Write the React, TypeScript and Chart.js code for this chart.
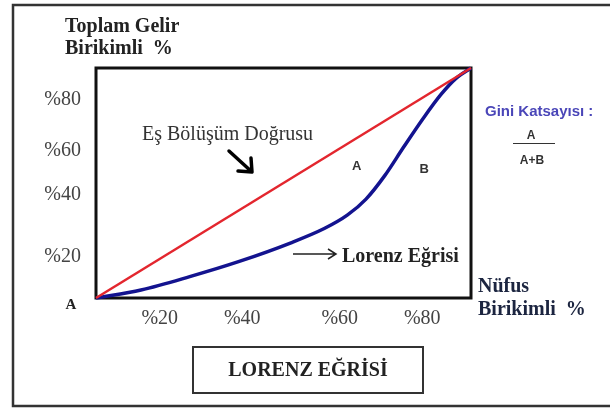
import React, { useEffect, useRef } from 'react';
import { Chart, registerables } from 'chart.js';

Chart.register(...registerables);

// Lorenz curve: cumulative population share (x) vs cumulative income share (y)
const populationCum = [0, 12, 25, 38, 52, 61, 67, 72, 77, 82, 87, 92, 96, 100];
const incomeCum = [0, 3.5, 9.3, 15.8, 24, 30.3, 36, 43, 53.2, 65.5, 77.5, 88.5, 95.5, 100];

// Line of perfect equality
const equalityX = [0, 100];
const equalityY = [0, 100];

// Tick labels as placed in the picture
const xTickPos = [17, 39, 65, 87];
const xTickLabels = ['%20', '%40', '%60', '%80'];
const yTickPos = [18, 45, 64, 86];
const yTickLabels = ['%20', '%40', '%60', '%80'];

const SERIF = '"Liberation Serif", "Times New Roman", serif';
const SANS = '"Liberation Sans", Arial, sans-serif';

const decorPlugin = {
  id: 'decor',
  beforeDatasetsDraw(chart: any) {
    const { ctx, chartArea } = chart;
    ctx.save();
    ctx.strokeStyle = '#111';
    ctx.lineWidth = 3;
    ctx.strokeRect(chartArea.left, chartArea.top, chartArea.right - chartArea.left, chartArea.bottom - chartArea.top);
    ctx.restore();
  },
  afterDraw(chart: any) {
    const { ctx, scales } = chart;
    const xs = scales.x;
    const ys = scales.y;
    ctx.save();

    // outer frame (open on the right)
    ctx.strokeStyle = '#333';
    ctx.lineWidth = 2.5;
    ctx.beginPath();
    ctx.moveTo(620, 5);
    ctx.lineTo(13, 5);
    ctx.lineTo(13, 406);
    ctx.lineTo(620, 406);
    ctx.stroke();

    ctx.textBaseline = 'alphabetic';
    ctx.textAlign = 'left';

    // Y axis title
    ctx.fillStyle = '#222';
    ctx.font = `bold 20px ${SERIF}`;
    ctx.fillText('Toplam Gelir', 65, 32);
    ctx.fillText('Birikimli  %', 65, 54);

    // X axis title
    ctx.fillStyle = '#1c2540';
    ctx.fillText('Nüfus', 478, 292);
    ctx.fillText('Birikimli  %', 478, 315);

    // origin label
    ctx.fillStyle = '#222';
    ctx.font = `bold 15px ${SERIF}`;
    ctx.textAlign = 'center';
    ctx.fillText('A', 71, 309);

    // Eş Bölüşüm Doğrusu
    ctx.textAlign = 'left';
    ctx.fillStyle = '#333';
    ctx.font = `20px ${SERIF}`;
    ctx.fillText('Eş Bölüşüm Doğrusu', 142, 140);

    // hand-drawn arrow
    ctx.strokeStyle = '#000';
    ctx.lineWidth = 3.5;
    ctx.lineCap = 'round';
    ctx.beginPath();
    ctx.moveTo(229, 151);
    ctx.lineTo(252, 172);
    ctx.moveTo(252, 172);
    ctx.lineTo(238, 171);
    ctx.moveTo(252, 172);
    ctx.lineTo(251, 158);
    ctx.stroke();

    // A and B area labels (placed in data space)
    ctx.fillStyle = '#333';
    ctx.font = `bold 13px ${SANS}`;
    ctx.textAlign = 'center';
    ctx.textBaseline = 'middle';
    ctx.fillText('A', xs.getPixelForValue(69.5), ys.getPixelForValue(57));
    ctx.fillText('B', xs.getPixelForValue(87.5), ys.getPixelForValue(56));

    // Lorenz Eğrisi arrow + label
    ctx.strokeStyle = '#222';
    ctx.lineWidth = 1.5;
    ctx.lineCap = 'butt';
    ctx.beginPath();
    ctx.moveTo(293, 254);
    ctx.lineTo(336, 254);
    ctx.moveTo(328, 249);
    ctx.lineTo(336, 254);
    ctx.lineTo(328, 259);
    ctx.stroke();
    ctx.textAlign = 'left';
    ctx.textBaseline = 'alphabetic';
    ctx.fillStyle = '#222';
    ctx.font = `bold 20px ${SERIF}`;
    ctx.fillText('Lorenz Eğrisi', 342, 262);

    // Gini coefficient
    ctx.fillStyle = '#4a46b8';
    ctx.font = `bold 15px ${SANS}`;
    ctx.fillText('Gini Katsayısı :', 485, 116);
    ctx.fillStyle = '#333';
    ctx.font = `bold 12px ${SANS}`;
    ctx.textAlign = 'center';
    ctx.fillText('A', 531, 139);
    ctx.strokeStyle = '#333';
    ctx.lineWidth = 1;
    ctx.beginPath();
    ctx.moveTo(513, 143.5);
    ctx.lineTo(555, 143.5);
    ctx.stroke();
    ctx.fillText('A+B', 532, 164);

    // title box
    ctx.strokeStyle = '#333';
    ctx.lineWidth = 2;
    ctx.strokeRect(193, 347, 230, 46);
    ctx.fillStyle = '#222';
    ctx.font = `bold 20px ${SERIF}`;
    ctx.textAlign = 'center';
    ctx.fillText('LORENZ EĞRİSİ', 308, 376);

    ctx.restore();
  },
};

export default function App() {
  const ref = useRef<HTMLCanvasElement | null>(null);

  useEffect(() => {
    document.body.style.margin = '0';
    document.body.style.background = '#fff';
    const canvas = ref.current;
    if (!canvas) return;

    const chart = new Chart(canvas, {
      type: 'line',
      data: {
        datasets: [
          {
            label: 'Eş Bölüşüm Doğrusu',
            data: equalityX.map((x, i) => ({ x, y: equalityY[i] })),
            borderColor: '#e3262e',
            borderWidth: 2.5,
            pointRadius: 0,
            tension: 0,
            clip: false as any,
          },
          {
            label: 'Lorenz Eğrisi',
            data: populationCum.map((x, i) => ({ x, y: incomeCum[i] })),
            borderColor: '#13138f',
            borderWidth: 3.5,
            pointRadius: 0,
            cubicInterpolationMode: 'monotone',
            clip: false as any,
          },
        ],
      },
      options: {
        animation: false,
        responsive: false,
        devicePixelRatio: 1,
        layout: { padding: { left: 0, top: 68, right: 139, bottom: 71 } },
        plugins: {
          legend: { display: false },
          tooltip: { enabled: false },
          title: { display: false },
        },
        scales: {
          x: {
            type: 'linear',
            min: 0,
            max: 100,
            grid: { display: false, drawTicks: false },
            border: { display: false },
            afterBuildTicks: (s: any) => {
              s.ticks = xTickPos.map((v) => ({ value: v }));
            },
            afterFit: (s: any) => {
              s.height = 40;
            },
            ticks: {
              autoSkip: false,
              maxRotation: 0,
              padding: 9,
              color: '#444',
              font: { family: SERIF, size: 20 },
              callback: (_v: any, i: number) => xTickLabels[i],
            },
          },
          y: {
            type: 'linear',
            min: 0,
            max: 100,
            grid: { display: false, drawTicks: false },
            border: { display: false },
            afterBuildTicks: (s: any) => {
              s.ticks = yTickPos.map((v) => ({ value: v }));
            },
            afterFit: (s: any) => {
              s.width = 96;
            },
            ticks: {
              autoSkip: false,
              padding: 15,
              color: '#444',
              font: { family: SERIF, size: 20 },
              callback: (_v: any, i: number) => yTickLabels[i],
            },
          },
        },
      },
      plugins: [decorPlugin],
    });

    return () => chart.destroy();
  }, []);

  return <canvas ref={ref} width={610} height={409} style={{ display: 'block' }} />;
}
